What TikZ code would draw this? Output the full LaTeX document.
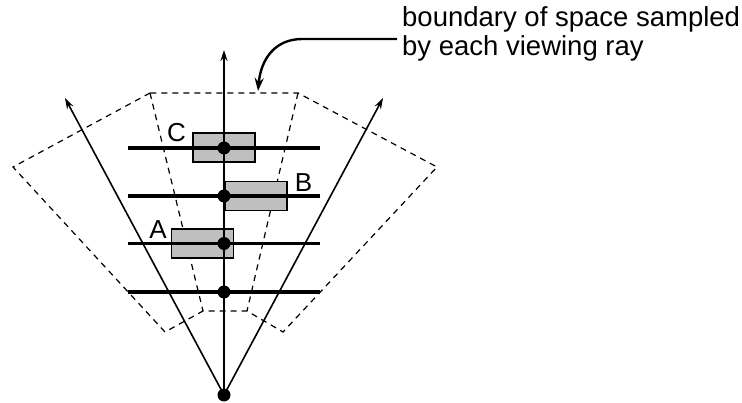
\documentclass[tikz,border=0pt]{standalone}
\usepackage{fontspec}
\setmainfont{Liberation Sans}
\usetikzlibrary{arrows.meta}
\begin{document}
\begin{tikzpicture}[x=1pt,y=-1pt,
  dotnode/.style={circle,fill=black,inner sep=0pt,minimum size=13pt},
  ray/.style={line width=1.6pt,-{Stealth[length=11pt,width=7pt]}},
  sampleline/.style={line width=3.2pt},
  bound/.style={line width=1.2pt,dash pattern=on 6pt off 5pt},
  sbox/.style={draw=black,fill=black!25,line width=1.4pt,inner sep=0pt,minimum width=62pt,minimum height=29pt},
  lab/.style={font=\fontsize{26}{26}\selectfont,inner sep=0pt},
  note/.style={font=\fontsize{27.5}{29.3}\selectfont,align=left,inner sep=0pt,anchor=north west}]
\useasboundingbox (0,0) rectangle (742,403);
% boundary (dashed)
\coordinate (p1) at (150,93);
\coordinate (p2) at (13,167);
\coordinate (p3) at (165,332);
\coordinate (p4) at (203,311);
\coordinate (p5) at (247,311);
\coordinate (p6) at (283,332);
\coordinate (p7) at (437,167);
\coordinate (p8) at (298,93);
\draw[bound] (p1) -- (p2) -- (p3) -- (p4) -- (p5) -- (p6) -- (p7) -- (p8) -- cycle;
\draw[bound] (p1) -- (p4);
\draw[bound] (p8) -- (p5);
% boxes
\node[sbox] (bc) at (224,147.5) {};
\node[sbox] (bb) at (256,196) {};
\node[sbox] (ba) at (202.5,243.5) {};
% horizontal sample lines
\foreach \y/\n in {148/1,196/2,243.5/3,292/4}{
  \coordinate (l\n) at (128,\y);
  \coordinate (r\n) at (320,\y);
  \draw[sampleline] (l\n) -- (r\n);
}
% rays
\node[dotnode] (o) at (224,395) {};
\coordinate (tl) at (65,98);
\coordinate (tc) at (224,50);
\coordinate (tr) at (383,98);
\draw[ray] (o.center) -- (tl);
\draw[ray] (o.center) -- (tc);
\draw[ray] (o.center) -- (tr);
% dots
\node[dotnode] (d1) at (224,148) {};
\node[dotnode] (d2) at (224,196) {};
\node[dotnode] (d3) at (224,243.5) {};
\node[dotnode] (d4) at (224,292) {};
% labels
\node[lab] (la) at (158,230) {A};
\node[lab] (lb) at (303.5,183) {B};
\node[lab] (lc) at (176.5,133) {C};
% note
\node[note] (t) at (402,6) {boundary of space sampled\\by each viewing ray};
\coordinate (cs) at (397,39);
\coordinate (ce) at (258,91);
\draw[line width=2.4pt,-{Stealth[length=13pt,width=9pt]}] (cs) -- (302,39) .. controls (276,39) and (261,58) .. (ce);
\end{tikzpicture}
\end{document}
